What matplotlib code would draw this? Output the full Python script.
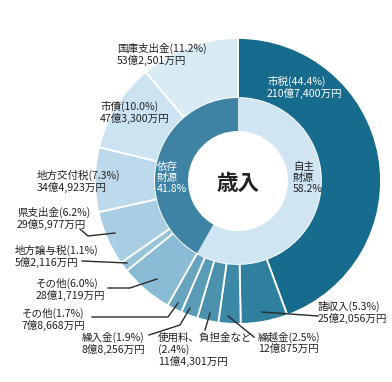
import matplotlib
matplotlib.use("Agg")
import matplotlib.pyplot as plt

plt.rcParams["font.family"] = ["Noto Sans CJK JP", "DejaVu Sans"]

# outer ring, clockwise from 12 o'clock
items = ["市税", "諸収入", "繰越金", "使用料、負担金など", "繰入金", "その他",
         "その他", "地方譲与税", "県支出金", "地方交付税", "市債", "国庫支出金"]
pcts = [44.4, 5.3, 2.5, 2.4, 1.9, 1.7, 6.0, 1.1, 6.2, 7.3, 10.0, 11.2]
amounts = ["210億7,400万円", "25億2,056万円", "12億875万円", "11億4,301万円",
           "8億8,256万円", "7億8,668万円", "28億1,719万円", "5億2,116万円",
           "29億5,977万円", "34億4,923万円", "47億3,300万円", "53億2,501万円"]
outer_cols = ["#176b8c", "#2f7f9f", "#3b88a7", "#4a91ae", "#5a9bb7", "#68a4bf",
              "#8abbd4", "#97c3da", "#a9cee3", "#bcdaeb", "#cce4f1", "#d9ecf6"]

# inner ring
groups = ["自主\n財源", "依存\n財源"]
group_pcts = [58.2, 41.8]
inner_cols = ["#cfe5f2", "#3e83a3"]

W, H = 392, 382
fig = plt.figure(figsize=(W / 100, H / 100), dpi=100)
ax = fig.add_axes([0, 0, 1, 1])
cx, cy = 238, H - 181

ax.pie(pcts, colors=outer_cols, startangle=90, counterclock=False,
       radius=143, center=(cx, cy), frame=True,
       wedgeprops=dict(width=60, edgecolor="white", linewidth=1.3))
ax.pie(group_pcts, colors=inner_cols, startangle=90, counterclock=False,
       radius=83, center=(cx, cy), frame=True,
       wedgeprops=dict(width=33, edgecolor="none"))
ax.set_xlim(0, W)
ax.set_ylim(0, H)
ax.set_aspect("equal")
ax.axis("off")

def T(x, y, s, **kw):
    kw.setdefault("fontsize", 7.6)
    kw.setdefault("color", "#222222")
    ax.text(x, H - y, s, va="center", ha="left", linespacing=1.1, **kw)

def L(pts):
    ax.plot([p[0] for p in pts], [H - p[1] for p in pts], color="#2a2a2a", lw=1.0)

lab = [f"{n}({p}%)" for n, p in zip(items, pcts)]

T(267, 87, lab[0] + "\n" + amounts[0], color="white")
T(318, 312, lab[1] + "\n" + amounts[1])
T(258, 343, lab[2] + "\n" + amounts[2])
T(158, 350, items[3] + "\n(" + str(pcts[3]) + "%)\n" + amounts[3])
T(82, 343, lab[4] + "\n" + amounts[4])
T(22, 319, lab[5] + "\n" + amounts[5])
T(36, 289, lab[6] + "\n" + amounts[6])
T(15, 256, lab[7] + "\n" + amounts[7])
T(17, 218, lab[8] + "\n" + amounts[8])
T(37, 181, lab[9] + "\n" + amounts[9])
T(100, 112, lab[10] + "\n" + amounts[10])
T(117, 54, lab[11] + "\n" + amounts[11])

L([(262, 312), (318, 316)])
L([(228, 316), (254, 337)])
L([(210, 313), (205, 330)])
L([(190, 308), (180, 325), (149, 335)])
L([(178, 303), (168, 317), (92, 317)])
L([(157, 279), (130, 288), (108, 288)])
L([(82, 261), (127, 263)])
L([(80, 229), (88, 236), (115, 233)])

T(293, 178, groups[0] + "\n" + f"{group_pcts[0]}%")
T(157, 178, groups[1] + "\n" + f"{group_pcts[1]}%", color="white")
ax.text(cx, H - 183, "歳入", ha="center", va="center", fontsize=15.5,
        fontweight="bold", color="#222222")

fig.savefig("out.png", dpi=100)
